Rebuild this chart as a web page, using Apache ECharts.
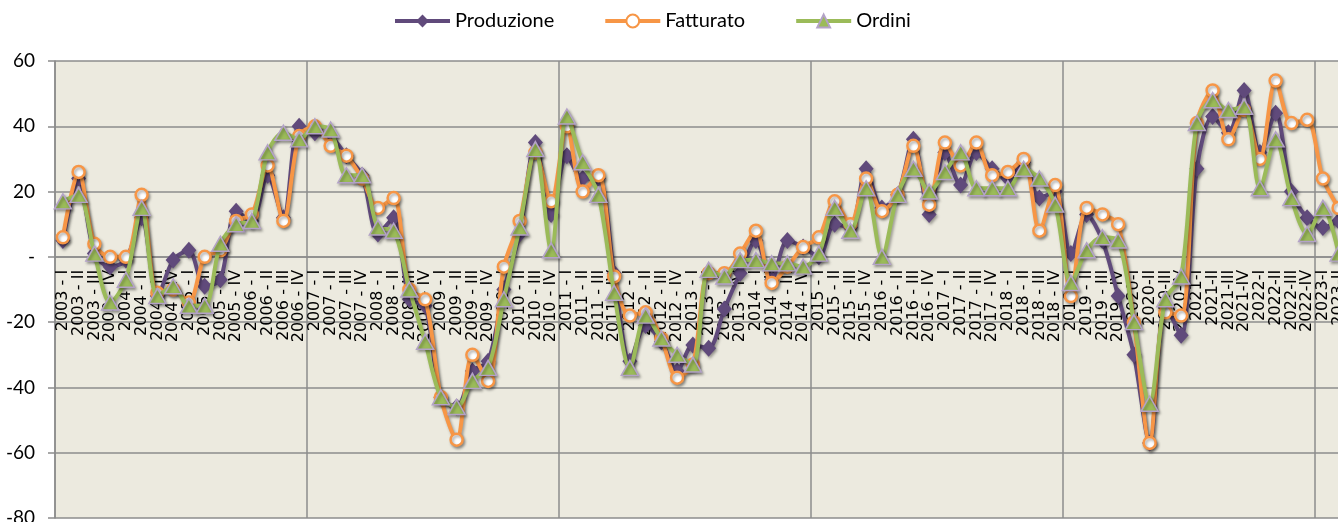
<!DOCTYPE html>
<html>
<head>
<meta charset="utf-8">
<script src="https://cdn.jsdelivr.net/npm/echarts@6/dist/echarts.min.js"></script>
<style>
  html, body { margin: 0; padding: 0; background: #ffffff; }
  #chart { width: 1338px; height: 522px; }
</style>
</head>
<body>
<div id="chart"></div>
<script>
  /* Produzione / Fatturato / Ordini, quarterly 2003-I .. 2023-II */
  const YEARS = [2003, 2004, 2005, 2006, 2007, 2008, 2009, 2010, 2011, 2012, 2013,
    2014, 2015, 2016, 2017, 2018, 2019, 2020, 2021, 2022, 2023];
  const QUARTERS = ["I", "II", "III", "IV"];
  const LAST_QUARTERS = 2; // 2023 stops at II

  const PRODUZIONE = [
    5, 24, 1, -3, -1, 12, -12, -1, 2, -9, -7, 14, 11, 25, 12, 40,
    38, 37, 31, 25, 7, 12, -13, -15, -43, -46, -35, -32, -10, 7, 35, 13,
    31, 24, 24, -5, -32, -21, -26, -35, -27, -28, -16, -5, 5, -7, 5, 3,
    0, 10, 9, 27, 15, 19, 36, 13, 32, 22, 32, 27, 24, 29, 18, 20,
    1, 13, 5, -12, -30, -57, -15, -24, 27, 43, 38, 51, 32, 44, 20, 12, 9, 11,
  ];
  const FATTURATO = [
    6, 26, 4, 0, 0, 19, -11, -10, -14, 0, 2, 11, 13, 28, 11, 37,
    40, 34, 31, 24, 15, 18, -10, -13, -43, -56, -30, -38, -3, 11, 32, 17,
    40, 20, 25, -6, -18, -17, -25, -37, -33, -5, -5, 1, 8, -8, -3, 3,
    6, 17, 10, 24, 14, 19, 34, 16, 35, 28, 35, 25, 26, 30, 8, 22,
    -12, 15, 13, 10, -20, -57, -17, -18, 41, 51, 36, 45, 30, 54, 41, 42, 24, 15,
  ];
  const ORDINI = [
    17, 19, 1, -14, -7, 15, -12, -9, -15, -15, 4, 10, 11, 32, 38, 36,
    40, 39, 25, 25, 9, 8, -10, -26, -43, -46, -38, -34, -13, 9, 33, 2,
    43, 29, 19, -11, -34, -18, -25, -30, -33, -4, -6, -1, -1, -2, -2, -3,
    1, 15, 8, 21, 0, 19, 27, 20, 26, 32, 21, 21, 21, 27, 24, 16,
    -8, 2, 6, 5, -20, -45, -13, -6, 41, 48, 45, 46, 21, 36, 18, 7, 15, 1,
  ];

  const Y_MIN = -80, Y_MAX = 60, Y_STEP = 20;

  // labels switch from "2019 - IV" to "2020-I" in the source
  const CATEGORIES = [];
  YEARS.forEach((y, yi) => {
    const n = yi === YEARS.length - 1 ? LAST_QUARTERS : 4;
    for (let q = 0; q < n; q++) {
      CATEGORIES.push(y >= 2020 ? y + "-" + QUARTERS[q] : y + " - " + QUARTERS[q]);
    }
  });

  const PURPLE = "#604a7b";
  const ORANGE = "#f79646";
  const GREEN = "#9bbb59";
  const GRID_C = "#8c8c8c";
  const FONT = "Lato, 'Open Sans', sans-serif";
  const CAT_W = 15.75;
  const GRID_TOP = 61, GRID_H = 457;
  // category axis sits on the zero line (plot extends past the right edge)
  const ZERO_OFFSET = -GRID_H * (0 - Y_MIN) / (Y_MAX - Y_MIN);

  const shadow = {
    shadowColor: "rgba(0,0,0,0.35)", shadowBlur: 3,
    shadowOffsetX: 1.5, shadowOffsetY: 2,
  };

  const inst = echarts.init(document.getElementById("chart"), null, { renderer: "canvas" });

  inst.setOption({
    animation: false,
    backgroundColor: "#ffffff",
    legend: {
      left: 388, top: 6,
      itemWidth: 55, itemHeight: 16, itemGap: 49,
      textStyle: { color: "#000", fontSize: 20, fontFamily: FONT },
      lineStyle: { width: 4 },
      data: ["Produzione", "Fatturato", "Ordini"],
    },
    grid: {
      left: 55, top: GRID_TOP, width: CATEGORIES.length * CAT_W, height: GRID_H,
      outerBoundsMode: "none", containLabel: false,
      show: true, backgroundColor: "#eceadf", borderWidth: 0,
    },
    xAxis: {
      type: "category", data: CATEGORIES, boundaryGap: true,
      position: "bottom", offset: ZERO_OFFSET,
      axisLine: { onZero: false, lineStyle: { color: GRID_C, width: 1.5 } },
      axisTick: { show: false },
      axisLabel: {
        interval: 0, rotate: 90, margin: 13,
        color: "#000", fontSize: 16, fontFamily: "'DejaVu Sans', sans-serif",
      },
      splitLine: {
        show: true, interval: (i) => i % 16 === 0,
        lineStyle: { color: GRID_C, width: 1.5 },
      },
    },
    yAxis: {
      type: "value", min: Y_MIN, max: Y_MAX, interval: Y_STEP,
      axisLine: { show: true, onZero: false, lineStyle: { color: GRID_C, width: 1.5 } },
      axisTick: { show: true, inside: false, length: 7, lineStyle: { color: GRID_C, width: 1.5 } },
      axisLabel: {
        margin: 20, color: "#000", fontSize: 19, fontFamily: FONT,
        formatter: (v) => (v === 0 ? "-" : String(v)),
      },
      splitLine: { lineStyle: { color: GRID_C, width: 1.5 } },
    },
    series: [
      {
        name: "Produzione", type: "line", data: PRODUZIONE, smooth: 0.3, z: 3,
        symbol: "diamond", symbolSize: [15, 17],
        lineStyle: Object.assign({ color: PURPLE, width: 4 }, shadow),
        itemStyle: Object.assign({ color: PURPLE }, shadow),
      },
      {
        name: "Fatturato", type: "line", data: FATTURATO, smooth: 0.3, z: 4,
        symbol: "circle", symbolSize: 12,
        lineStyle: Object.assign({ color: ORANGE, width: 4 }, shadow),
        itemStyle: Object.assign({ color: "#ffffff", borderColor: ORANGE, borderWidth: 2.5 }, shadow),
      },
      {
        name: "Ordini", type: "line", data: ORDINI, smooth: 0.3, z: 5,
        symbol: "triangle", symbolSize: [17, 15],
        lineStyle: Object.assign({ color: GREEN, width: 4 }, shadow),
        itemStyle: Object.assign({ color: GREEN, borderColor: "#b3a2c7", borderWidth: 1.5 }, shadow),
      },
    ],
  });
  window.addEventListener("resize", () => inst.resize());
</script>
</body>
</html>
